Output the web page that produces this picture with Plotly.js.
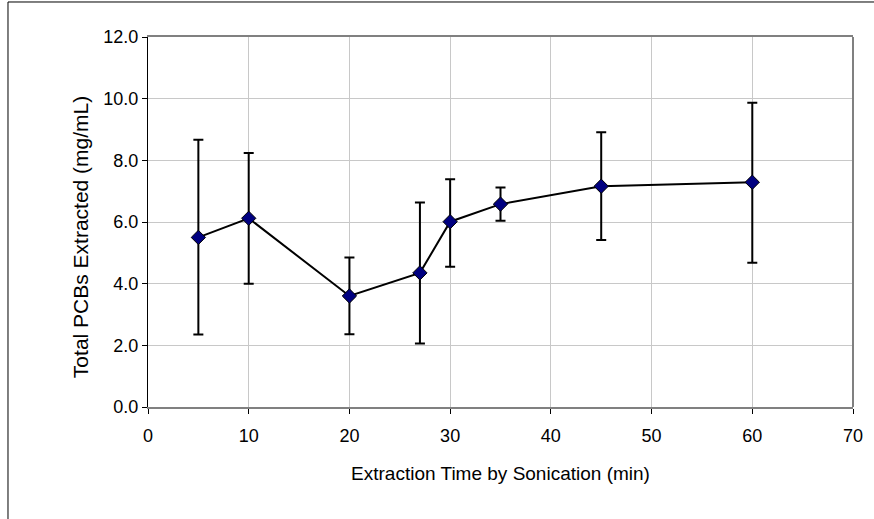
<!DOCTYPE html>
<html>
<head>
<meta charset="utf-8">
<script src="https://cdn.plot.ly/plotly-3.0.1.min.js"></script>
<style>html,body{margin:0;padding:0;background:#fff;}#chart{width:874px;height:519px;}</style>
</head>
<body>
<div id="chart"></div>
<script>
const times = [5, 10, 20, 27, 30, 35, 45, 60];
const pcbs = [5.50, 6.12, 3.60, 4.35, 6.01, 6.58, 7.16, 7.29];
const errPlus = [3.17, 2.12, 1.25, 2.28, 1.38, 0.54, 1.75, 2.58];
const errMinus = [3.15, 2.12, 1.24, 2.29, 1.46, 0.54, 1.74, 2.61];
const xTickVals = [0, 10, 20, 30, 40, 50, 60, 70];
const yTickVals = [0, 2, 4, 6, 8, 10, 12];
const yTitle = 'Total PCBs Extracted (mg/mL)';
const xTitle = 'Extraction Time by Sonication (min)';

const font = 'Liberation Sans, Arial, sans-serif';

const trace = {
  x: times, y: pcbs, type: 'scatter', mode: 'lines+markers',
  line: {color: '#000000', width: 2},
  marker: {symbol: 'diamond', size: 11, color: '#000080', line: {color: '#000000', width: 1}},
  error_y: {type: 'data', symmetric: false, array: errPlus, arrayminus: errMinus,
            color: '#000000', thickness: 2, width: 5},
  showlegend: false, hoverinfo: 'none'
};

const layout = {
  width: 874, height: 519,
  margin: {l: 148, r: 21, t: 37, b: 112},
  paper_bgcolor: '#ffffff', plot_bgcolor: '#ffffff',
  font: {family: font, size: 18, color: '#000000'},
  xaxis: {
    range: [0, 70], tickvals: xTickVals, ticktext: xTickVals.map(String),
    showgrid: true, gridcolor: '#c8c8c8', gridwidth: 1,
    showline: true, linecolor: '#808080', linewidth: 2, mirror: true,
    ticks: 'outside', ticklen: 5, tickcolor: '#000000', tickwidth: 1,
    ticklabelstandoff: 6,
    zeroline: false, tickfont: {family: font, size: 18},
    title: {text: xTitle, font: {family: font, size: 19}, standoff: 22}
  },
  yaxis: {
    range: [0, 12], tickvals: yTickVals, tickformat: '.1f',
    showgrid: true, gridcolor: '#c8c8c8', gridwidth: 1,
    showline: true, linecolor: '#000000', linewidth: 1,
    ticks: 'outside', ticklen: 5, tickcolor: '#000000', tickwidth: 1,
    zeroline: false, tickfont: {family: font, size: 18}
  },
  annotations: [
    {text: yTitle, xref: 'paper', yref: 'paper', x: -0.0965, y: 0.459,
     xanchor: 'center', yanchor: 'middle', textangle: -90, showarrow: false,
     font: {family: font, size: 21, color: '#000000'}}
  ],
  shapes: [
    {type: 'line', xref: 'paper', yref: 'paper', x0: 1, x1: 1, y0: 0, y1: 1,
     line: {color: '#808080', width: 2}},
    {type: 'rect', xref: 'paper', yref: 'paper', x0: -0.1986, x1: 1.05, y0: -0.35, y1: 1.0946,
     line: {color: '#000000', width: 1}, fillcolor: 'rgba(0,0,0,0)'}
  ]
};

Plotly.newPlot('chart', [trace], layout, {staticPlot: true, displayModeBar: false});
</script>
</body>
</html>
